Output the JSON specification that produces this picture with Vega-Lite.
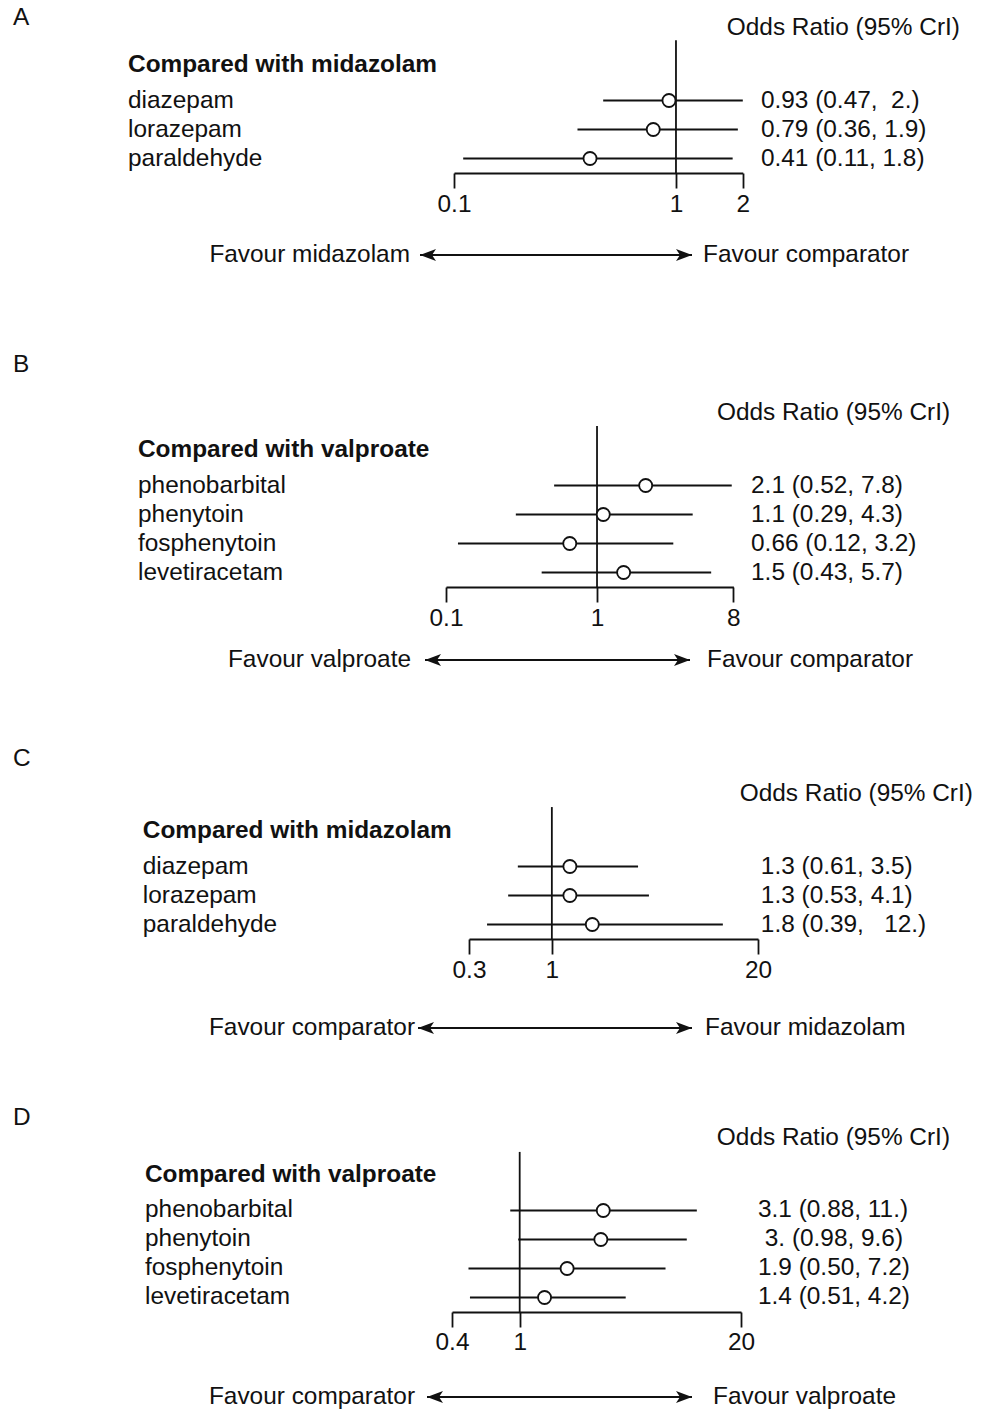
{
  "$schema": "https://vega.github.io/schema/vega-lite/v6.json",
  "padding": 0,
  "background": "white",
  "bounds": "flush",
  "spacing": 70,
  "config": {
    "font": "Liberation Sans",
    "view": {"stroke": null},
    "text": {"fontSize": 24.4, "color": "#111", "baseline": "middle"},
    "title": {"fontSize": 24.4, "fontWeight": "normal", "color": "#111", "anchor": "start"},
    "axis": {"labelFontSize": 24.4, "labelColor": "#111", "tickColor": "#111", "domainColor": "#111", "tickSize": 15, "tickWidth": 1.8, "domainWidth": 1.8, "labelPadding": 4, "labelFlush": false, "labelOverlap": false, "grid": false}
  },
  "datasets": {
    "A": [
      {"drug": "diazepam", "or": 0.93, "lo": 0.47, "hi": 2.0, "label": "0.93 (0.47, \u00a02.)"},
      {"drug": "lorazepam", "or": 0.79, "lo": 0.36, "hi": 1.9, "label": "0.79 (0.36, 1.9)"},
      {"drug": "paraldehyde", "or": 0.41, "lo": 0.11, "hi": 1.8, "label": "0.41 (0.11, 1.8)"}
    ],
    "B": [
      {"drug": "phenobarbital", "or": 2.1, "lo": 0.52, "hi": 7.8, "label": "2.1 (0.52, 7.8)"},
      {"drug": "phenytoin", "or": 1.1, "lo": 0.29, "hi": 4.3, "label": "1.1 (0.29, 4.3)"},
      {"drug": "fosphenytoin", "or": 0.66, "lo": 0.12, "hi": 3.2, "label": "0.66 (0.12, 3.2)"},
      {"drug": "levetiracetam", "or": 1.5, "lo": 0.43, "hi": 5.7, "label": "1.5 (0.43, 5.7)"}
    ],
    "C": [
      {"drug": "diazepam", "or": 1.3, "lo": 0.61, "hi": 3.5, "label": "1.3 (0.61, 3.5)"},
      {"drug": "lorazepam", "or": 1.3, "lo": 0.53, "hi": 4.1, "label": "1.3 (0.53, 4.1)"},
      {"drug": "paraldehyde", "or": 1.8, "lo": 0.39, "hi": 12, "label": "1.8 (0.39, \u00a0\u00a012.)"}
    ],
    "D": [
      {"drug": "phenobarbital", "or": 3.1, "lo": 0.88, "hi": 11, "label": "3.1 (0.88, 11.)"},
      {"drug": "phenytoin", "or": 3.0, "lo": 0.98, "hi": 9.6, "label": "\u200b\u00a03. (0.98, 9.6)"},
      {"drug": "fosphenytoin", "or": 1.9, "lo": 0.50, "hi": 7.2, "label": "1.9 (0.50, 7.2)"},
      {"drug": "levetiracetam", "or": 1.4, "lo": 0.51, "hi": 4.2, "label": "1.4 (0.51, 4.2)"}
    ]
  },
  "vconcat": [
    {
      "width": 988,
      "height": {"step": 29},
      "title": {"text": "A", "dx": 13, "offset": -30},
      "data": {"name": "A"},
      "layer": [
        {
          "mark": {"type": "rule", "strokeWidth": 1.8, "color": "#111"},
          "encoding": {
            "x": {"field": "lo", "type": "quantitative", "title": null, "scale": {"type": "log", "domain": [0.1, 2], "range": [454, 742.8], "nice": false}, "axis": {"values": [0.1, 1, 2], "format": "~g", "title": null}},
            "x2": {"field": "hi"},
            "y": {"field": "drug", "type": "nominal", "scale": {"type": "band", "domain": ["_odds", "_hdr", "diazepam", "lorazepam", "paraldehyde"], "paddingInner": 0, "paddingOuter": 0.4828, "align": 1}, "axis": null}
          }
        },
        {
          "data": {"values": [{}]},
          "mark": {"type": "rule", "strokeWidth": 1.8, "color": "#111"},
          "encoding": {
            "x": {"datum": 1, "type": "quantitative", "title": null},
            "y": {"datum": "_odds", "type": "nominal", "bandPosition": 0.42, "axis": null},
            "y2": {"datum": "paraldehyde", "bandPosition": 1}
          }
        },
        {
          "mark": {"type": "point", "shape": "circle", "filled": true, "fill": "white", "stroke": "#111", "strokeWidth": 1.8, "size": 170, "opacity": 1},
          "encoding": {
            "x": {"field": "or", "type": "quantitative", "title": null},
            "y": {"field": "drug", "type": "nominal", "axis": null}
          }
        },
        {
          "mark": {"type": "text", "align": "left"},
          "encoding": {
            "x": {"datum": 0.0034, "type": "quantitative", "title": null},
            "y": {"field": "drug", "type": "nominal", "axis": null},
            "text": {"field": "drug"}
          }
        },
        {
          "mark": {"type": "text", "align": "left"},
          "encoding": {
            "x": {"datum": 2.414, "type": "quantitative", "title": null},
            "y": {"field": "drug", "type": "nominal", "axis": null},
            "text": {"field": "label"}
          }
        },
        {
          "data": {"values": [{}]},
          "mark": {"type": "text", "align": "left", "fontWeight": "bold"},
          "encoding": {
            "x": {"datum": 0.0034, "type": "quantitative", "title": null},
            "y": {"datum": "_hdr", "type": "nominal", "bandPosition": 0.276, "axis": null},
            "text": {"datum": "Compared with midazolam"}
          }
        },
        {
          "data": {"values": [{}]},
          "mark": {"type": "text", "align": "right"},
          "encoding": {
            "x": {"datum": 19.02, "type": "quantitative", "title": null},
            "y": {"datum": "_odds", "type": "nominal", "bandPosition": 0, "axis": null},
            "text": {"datum": "Odds Ratio (95% CrI)"}
          }
        }
      ]
    },
    {
      "width": 988,
      "height": 22,
      "data": {"values": [{"left": "Favour midazolam", "right": "Favour comparator"}]},
      "layer": [
        {"mark": {"type": "rule", "strokeWidth": 1.8, "color": "#111"}, "encoding": {"x": {"datum": "l", "type": "nominal", "scale": {"type": "point", "domain": ["l", "r"], "range": [420, 692], "padding": 0}, "axis": null}, "x2": {"datum": "r"}}},
        {"mark": {"type": "point", "shape": "M0,0L2,-0.75L1.5,0L2,0.75Z", "filled": true, "size": 256, "color": "#111", "opacity": 1}, "encoding": {"x": {"datum": "l", "type": "nominal", "axis": null}}},
        {"mark": {"type": "point", "shape": "M0,0L-2,-0.75L-1.5,0L-2,0.75Z", "filled": true, "size": 256, "color": "#111", "opacity": 1}, "encoding": {"x": {"datum": "r", "type": "nominal", "axis": null}}},
        {"mark": {"type": "text", "align": "right", "dx": -10}, "encoding": {"x": {"datum": "l", "type": "nominal", "axis": null}, "text": {"field": "left"}}},
        {"mark": {"type": "text", "align": "left", "dx": 11}, "encoding": {"x": {"datum": "r", "type": "nominal", "axis": null}, "text": {"field": "right"}}}
      ]
    },
    {
      "width": 988,
      "height": {"step": 29},
      "title": {"text": "B", "dx": 13, "offset": -41},
      "data": {"name": "B"},
      "layer": [
        {
          "mark": {"type": "rule", "strokeWidth": 1.8, "color": "#111"},
          "encoding": {
            "x": {"field": "lo", "type": "quantitative", "title": null, "scale": {"type": "log", "domain": [0.1, 8], "range": [446, 733.4], "nice": false}, "axis": {"values": [0.1, 1, 8], "format": "~g", "title": null}},
            "x2": {"field": "hi"},
            "y": {"field": "drug", "type": "nominal", "scale": {"type": "band", "domain": ["_pad", "_odds", "_hdr", "phenobarbital", "phenytoin", "fosphenytoin", "levetiracetam"], "paddingInner": 0, "paddingOuter": 0.8276, "align": 1}, "axis": null}
          }
        },
        {
          "data": {"values": [{}]},
          "mark": {"type": "rule", "strokeWidth": 1.8, "color": "#111"},
          "encoding": {
            "x": {"datum": 1, "type": "quantitative", "title": null},
            "y": {"datum": "_odds", "type": "nominal", "bandPosition": 0.45, "axis": null},
            "y2": {"datum": "levetiracetam", "bandPosition": 1}
          }
        },
        {
          "mark": {"type": "point", "shape": "circle", "filled": true, "fill": "white", "stroke": "#111", "strokeWidth": 1.8, "size": 170, "opacity": 1},
          "encoding": {
            "x": {"field": "or", "type": "quantitative", "title": null},
            "y": {"field": "drug", "type": "nominal", "axis": null}
          }
        },
        {
          "mark": {"type": "text", "align": "left"},
          "encoding": {
            "x": {"datum": 0.000913, "type": "quantitative", "title": null},
            "y": {"field": "drug", "type": "nominal", "axis": null},
            "text": {"field": "drug"}
          }
        },
        {
          "mark": {"type": "text", "align": "left"},
          "encoding": {
            "x": {"datum": 10.47, "type": "quantitative", "title": null},
            "y": {"field": "drug", "type": "nominal", "axis": null},
            "text": {"field": "label"}
          }
        },
        {
          "data": {"values": [{}]},
          "mark": {"type": "text", "align": "left", "fontWeight": "bold"},
          "encoding": {
            "x": {"datum": 0.000913, "type": "quantitative", "title": null},
            "y": {"datum": "_hdr", "type": "nominal", "bandPosition": 0.276, "axis": null},
            "text": {"datum": "Compared with valproate"}
          }
        },
        {
          "data": {"values": [{}]},
          "mark": {"type": "text", "align": "right"},
          "encoding": {
            "x": {"datum": 217.6, "type": "quantitative", "title": null},
            "y": {"datum": "_odds", "type": "nominal", "bandPosition": 0, "axis": null},
            "text": {"datum": "Odds Ratio (95% CrI)"}
          }
        }
      ]
    },
    {
      "width": 988,
      "height": 4,
      "data": {"values": [{"left": "Favour valproate", "right": "Favour comparator"}]},
      "layer": [
        {"mark": {"type": "rule", "strokeWidth": 1.8, "color": "#111"}, "encoding": {"x": {"datum": "l", "type": "nominal", "scale": {"type": "point", "domain": ["l", "r"], "range": [425, 690], "padding": 0}, "axis": null}, "x2": {"datum": "r"}}},
        {"mark": {"type": "point", "shape": "M0,0L2,-0.75L1.5,0L2,0.75Z", "filled": true, "size": 256, "color": "#111", "opacity": 1}, "encoding": {"x": {"datum": "l", "type": "nominal", "axis": null}}},
        {"mark": {"type": "point", "shape": "M0,0L-2,-0.75L-1.5,0L-2,0.75Z", "filled": true, "size": 256, "color": "#111", "opacity": 1}, "encoding": {"x": {"datum": "r", "type": "nominal", "axis": null}}},
        {"mark": {"type": "text", "align": "right", "dx": -14}, "encoding": {"x": {"datum": "l", "type": "nominal", "axis": null}, "text": {"field": "left"}}},
        {"mark": {"type": "text", "align": "left", "dx": 17}, "encoding": {"x": {"datum": "r", "type": "nominal", "axis": null}, "text": {"field": "right"}}}
      ]
    },
    {
      "width": 988,
      "height": {"step": 29},
      "title": {"text": "C", "dx": 13, "offset": -39},
      "data": {"name": "C"},
      "layer": [
        {
          "mark": {"type": "rule", "strokeWidth": 1.8, "color": "#111"},
          "encoding": {
            "x": {"field": "lo", "type": "quantitative", "title": null, "scale": {"type": "log", "domain": [0.3, 20], "range": [469, 758], "nice": false}, "axis": {"values": [0.3, 1, 20], "format": "~g", "title": null}},
            "x2": {"field": "hi"},
            "y": {"field": "drug", "type": "nominal", "scale": {"type": "band", "domain": ["_pad", "_odds", "_hdr", "diazepam", "lorazepam", "paraldehyde"], "paddingInner": 0, "paddingOuter": 0.569, "align": 1}, "axis": null}
          }
        },
        {
          "data": {"values": [{}]},
          "mark": {"type": "rule", "strokeWidth": 1.8, "color": "#111"},
          "encoding": {
            "x": {"datum": 1, "type": "quantitative", "title": null},
            "y": {"datum": "_odds", "type": "nominal", "bandPosition": 0.45, "axis": null},
            "y2": {"datum": "paraldehyde", "bandPosition": 1}
          }
        },
        {
          "mark": {"type": "point", "shape": "circle", "filled": true, "fill": "white", "stroke": "#111", "strokeWidth": 1.8, "size": 170, "opacity": 1},
          "encoding": {
            "x": {"field": "or", "type": "quantitative", "title": null},
            "y": {"field": "drug", "type": "nominal", "axis": null}
          }
        },
        {
          "mark": {"type": "text", "align": "left"},
          "encoding": {
            "x": {"datum": 0.00262, "type": "quantitative", "title": null},
            "y": {"field": "drug", "type": "nominal", "axis": null},
            "text": {"field": "drug"}
          }
        },
        {
          "mark": {"type": "text", "align": "left"},
          "encoding": {
            "x": {"datum": 20.84, "type": "quantitative", "title": null},
            "y": {"field": "drug", "type": "nominal", "axis": null},
            "text": {"field": "label"}
          }
        },
        {
          "data": {"values": [{}]},
          "mark": {"type": "text", "align": "left", "fontWeight": "bold"},
          "encoding": {
            "x": {"datum": 0.00262, "type": "quantitative", "title": null},
            "y": {"datum": "_hdr", "type": "nominal", "bandPosition": 0.276, "axis": null},
            "text": {"datum": "Compared with midazolam"}
          }
        },
        {
          "data": {"values": [{}]},
          "mark": {"type": "text", "align": "right"},
          "encoding": {
            "x": {"datum": 454, "type": "quantitative", "title": null},
            "y": {"datum": "_odds", "type": "nominal", "bandPosition": 0, "axis": null},
            "text": {"datum": "Odds Ratio (95% CrI)"}
          }
        }
      ]
    },
    {
      "width": 988,
      "height": 36,
      "data": {"values": [{"left": "Favour comparator", "right": "Favour midazolam"}]},
      "layer": [
        {"mark": {"type": "rule", "strokeWidth": 1.8, "color": "#111"}, "encoding": {"x": {"datum": "l", "type": "nominal", "scale": {"type": "point", "domain": ["l", "r"], "range": [418, 692], "padding": 0}, "axis": null}, "x2": {"datum": "r"}}},
        {"mark": {"type": "point", "shape": "M0,0L2,-0.75L1.5,0L2,0.75Z", "filled": true, "size": 256, "color": "#111", "opacity": 1}, "encoding": {"x": {"datum": "l", "type": "nominal", "axis": null}}},
        {"mark": {"type": "point", "shape": "M0,0L-2,-0.75L-1.5,0L-2,0.75Z", "filled": true, "size": 256, "color": "#111", "opacity": 1}, "encoding": {"x": {"datum": "r", "type": "nominal", "axis": null}}},
        {"mark": {"type": "text", "align": "right", "dx": -3}, "encoding": {"x": {"datum": "l", "type": "nominal", "axis": null}, "text": {"field": "left"}}},
        {"mark": {"type": "text", "align": "left", "dx": 13}, "encoding": {"x": {"datum": "r", "type": "nominal", "axis": null}, "text": {"field": "right"}}}
      ]
    },
    {
      "width": 988,
      "height": {"step": 29},
      "title": {"text": "D", "dx": 13, "offset": -14},
      "data": {"name": "D"},
      "layer": [
        {
          "mark": {"type": "rule", "strokeWidth": 1.8, "color": "#111"},
          "encoding": {
            "x": {"field": "lo", "type": "quantitative", "title": null, "scale": {"type": "log", "domain": [0.4, 20], "range": [452, 741], "nice": false}, "axis": {"values": [0.4, 1, 20], "format": "~g", "title": null}},
            "x2": {"field": "hi"},
            "y": {"field": "drug", "type": "nominal", "scale": {"type": "band", "domain": ["_odds", "_hdr", "phenobarbital", "phenytoin", "fosphenytoin", "levetiracetam"], "paddingInner": 0, "paddingOuter": 0.3793, "align": 1}, "axis": null}
          }
        },
        {
          "data": {"values": [{}]},
          "mark": {"type": "rule", "strokeWidth": 1.8, "color": "#111"},
          "encoding": {
            "x": {"datum": 1, "type": "quantitative", "title": null},
            "y": {"datum": "_odds", "type": "nominal", "bandPosition": 0.48, "axis": null},
            "y2": {"datum": "levetiracetam", "bandPosition": 1}
          }
        },
        {
          "mark": {"type": "point", "shape": "circle", "filled": true, "fill": "white", "stroke": "#111", "strokeWidth": 1.8, "size": 170, "opacity": 1},
          "encoding": {
            "x": {"field": "or", "type": "quantitative", "title": null},
            "y": {"field": "drug", "type": "nominal", "axis": null}
          }
        },
        {
          "mark": {"type": "text", "align": "left"},
          "encoding": {
            "x": {"datum": 0.00627, "type": "quantitative", "title": null},
            "y": {"field": "drug", "type": "nominal", "axis": null},
            "text": {"field": "drug"}
          }
        },
        {
          "mark": {"type": "text", "align": "left"},
          "encoding": {
            "x": {"datum": 25.17, "type": "quantitative", "title": null},
            "y": {"field": "drug", "type": "nominal", "axis": null},
            "text": {"field": "label"}
          }
        },
        {
          "data": {"values": [{}]},
          "mark": {"type": "text", "align": "left", "fontWeight": "bold"},
          "encoding": {
            "x": {"datum": 0.00627, "type": "quantitative", "title": null},
            "y": {"datum": "_hdr", "type": "nominal", "bandPosition": 0.276, "axis": null},
            "text": {"datum": "Compared with valproate"}
          }
        },
        {
          "data": {"values": [{}]},
          "mark": {"type": "text", "align": "right"},
          "encoding": {
            "x": {"datum": 338.6, "type": "quantitative", "title": null},
            "y": {"datum": "_odds", "type": "nominal", "bandPosition": 0, "axis": null},
            "text": {"datum": "Odds Ratio (95% CrI)"}
          }
        }
      ]
    },
    {
      "width": 988,
      "height": 30,
      "data": {"values": [{"left": "Favour comparator", "right": "Favour valproate"}]},
      "layer": [
        {"mark": {"type": "rule", "strokeWidth": 1.8, "color": "#111"}, "encoding": {"x": {"datum": "l", "type": "nominal", "scale": {"type": "point", "domain": ["l", "r"], "range": [427, 692], "padding": 0}, "axis": null}, "x2": {"datum": "r"}}},
        {"mark": {"type": "point", "shape": "M0,0L2,-0.75L1.5,0L2,0.75Z", "filled": true, "size": 256, "color": "#111", "opacity": 1}, "encoding": {"x": {"datum": "l", "type": "nominal", "axis": null}}},
        {"mark": {"type": "point", "shape": "M0,0L-2,-0.75L-1.5,0L-2,0.75Z", "filled": true, "size": 256, "color": "#111", "opacity": 1}, "encoding": {"x": {"datum": "r", "type": "nominal", "axis": null}}},
        {"mark": {"type": "text", "align": "right", "dx": -12}, "encoding": {"x": {"datum": "l", "type": "nominal", "axis": null}, "text": {"field": "left"}}},
        {"mark": {"type": "text", "align": "left", "dx": 21}, "encoding": {"x": {"datum": "r", "type": "nominal", "axis": null}, "text": {"field": "right"}}}
      ]
    }
  ]
}
